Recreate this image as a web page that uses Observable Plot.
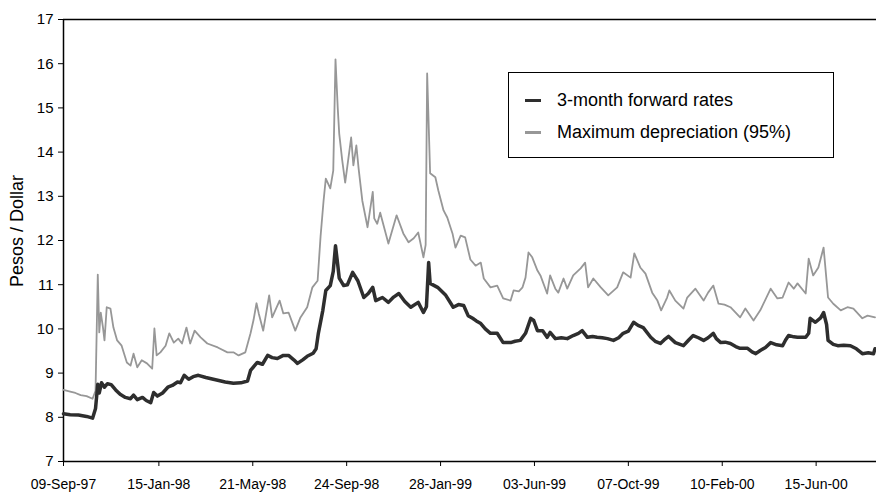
<!DOCTYPE html>
<html>
<head>
<meta charset="utf-8">
<script src="https://cdn.jsdelivr.net/npm/d3@7"></script>
<script src="https://cdn.jsdelivr.net/npm/@observablehq/plot@0.6"></script>
<style>
  html, body { margin: 0; padding: 0; background: #fff; }
  #wrap { position: relative; width: 876px; height: 493px; font-family: "Liberation Sans", Arial, sans-serif; }
  #ytitle { position: absolute; left: 17px; top: 231px; transform: translate(-50%, -50%) rotate(-90deg); font-size: 18px; white-space: nowrap; color: #000; }
  #legend { position: absolute; left: 508px; top: 72px; width: 326px; height: 86px; border: 1px solid #000; background: #fff; box-sizing: border-box; }
  .item { position: absolute; left: 16px; height: 20px; display: flex; align-items: center; font-size: 18px; white-space: nowrap; color: #000; }
  .swatch { width: 16px; height: 3px; margin-right: 16px; }
</style>
</head>
<body>
<div id="wrap"></div>
<script>
// ---- Data ----
const fwdDates = [
"1997-09-09","1997-09-18","1997-09-29","1997-10-10","1997-10-18","1997-10-22","1997-10-25","1997-10-27","1997-10-30","1997-11-03","1997-11-07","1997-11-12","1997-11-18","1997-11-24","1997-12-01","1997-12-08","1997-12-12","1997-12-17","1997-12-24","1997-12-29",
"1998-01-04","1998-01-08","1998-01-13","1998-01-20","1998-01-27","1998-02-02","1998-02-09","1998-02-13","1998-02-18","1998-02-24","1998-03-02","1998-03-09","1998-03-19","1998-04-01","1998-04-14","1998-04-25","1998-05-05","1998-05-14","1998-05-18","1998-05-27",
"1998-06-03","1998-06-10","1998-06-16","1998-06-23","1998-07-01","1998-07-08","1998-07-15","1998-07-20","1998-07-27","1998-08-02","1998-08-10","1998-08-14","1998-08-17","1998-08-23","1998-08-27","1998-09-02","1998-09-06","1998-09-09","1998-09-12","1998-09-14",
"1998-09-20","1998-09-25","1998-10-02","1998-10-09","1998-10-17","1998-10-23","1998-10-29","1998-11-02","1998-11-11","1998-11-19","1998-11-26","1998-12-03","1998-12-11","1998-12-19","1998-12-29","1999-01-05","1999-01-09","1999-01-12","1999-01-14","1999-01-24",
"1999-02-04","1999-02-14","1999-02-21","1999-02-28","1999-03-06","1999-03-12","1999-03-17","1999-03-23","1999-03-29","1999-04-05","1999-04-14","1999-04-22","1999-05-02","1999-05-08","1999-05-15","1999-05-22","1999-05-29","1999-06-02","1999-06-07","1999-06-14",
"1999-06-20","1999-06-24","1999-07-01","1999-07-09","1999-07-17","1999-07-25","1999-08-01","1999-08-06","1999-08-13","1999-08-20","1999-08-26","1999-09-02","1999-09-09","1999-09-17","1999-09-24","1999-09-30","1999-10-07","1999-10-14","1999-10-20","1999-10-27",
"1999-11-06","1999-11-12","1999-11-19","1999-11-24","1999-11-30","1999-12-09","1999-12-20","1999-12-27","2000-01-02","2000-01-09","2000-01-16","2000-01-22","2000-01-29","2000-02-02","2000-02-08","2000-02-14","2000-02-21","2000-02-28","2000-03-05","2000-03-15",
"2000-03-21","2000-03-26","2000-04-01","2000-04-08","2000-04-15","2000-04-23","2000-05-01","2000-05-05","2000-05-09","2000-05-16","2000-05-21","2000-06-01","2000-06-05","2000-06-07","2000-06-14","2000-06-21","2000-06-25","2000-06-29","2000-07-01","2000-07-08",
"2000-07-14","2000-07-22","2000-07-31","2000-08-08","2000-08-16","2000-08-24","2000-08-31","2000-09-02"];
const fwdValues = [
8.08,8.06,8.05,8.02,7.98,8.20,8.75,8.55,8.78,8.68,8.76,8.74,8.62,8.52,8.45,8.42,8.50,8.40,8.45,8.38,
8.33,8.56,8.48,8.55,8.68,8.72,8.80,8.78,8.95,8.86,8.92,8.95,8.90,8.85,8.80,8.77,8.78,8.82,9.06,9.24,
9.20,9.40,9.35,9.33,9.40,9.40,9.30,9.22,9.30,9.38,9.45,9.55,9.90,10.42,10.87,10.98,11.30,11.88,11.45,11.15,
10.98,11.00,11.28,11.09,10.71,10.80,10.94,10.64,10.71,10.60,10.72,10.80,10.62,10.49,10.60,10.37,10.50,11.50,11.03,10.94,
10.76,10.49,10.55,10.53,10.30,10.24,10.18,10.12,10.00,9.90,9.90,9.69,9.69,9.72,9.74,9.90,10.24,10.19,9.96,9.96,
9.81,9.92,9.78,9.80,9.78,9.85,9.90,9.96,9.81,9.83,9.81,9.80,9.78,9.74,9.80,9.90,9.95,10.15,10.08,10.03,
9.81,9.72,9.67,9.75,9.83,9.69,9.62,9.75,9.85,9.80,9.74,9.80,9.90,9.78,9.69,9.70,9.67,9.60,9.56,9.56,
9.48,9.44,9.51,9.58,9.69,9.64,9.62,9.75,9.85,9.82,9.81,9.81,9.90,10.24,10.15,10.25,10.37,10.10,9.74,9.65,
9.62,9.63,9.62,9.55,9.44,9.46,9.44,9.55];

const maxDates = [
"1997-09-09","1997-09-18","1997-09-25","1997-10-02","1997-10-10","1997-10-18","1997-10-22","1997-10-25","1997-10-27","1997-10-29","1997-11-01","1997-11-03","1997-11-06","1997-11-11","1997-11-15","1997-11-20","1997-11-26","1997-12-03","1997-12-08","1997-12-12",
"1997-12-17","1997-12-23","1997-12-30","1998-01-06","1998-01-09","1998-01-12","1998-01-17","1998-01-24","1998-01-29","1998-02-04","1998-02-10","1998-02-15","1998-02-21","1998-02-26","1998-03-04","1998-03-12","1998-03-21","1998-04-04","1998-04-17","1998-04-25",
"1998-05-02","1998-05-11","1998-05-18","1998-05-22","1998-05-26","1998-05-29","1998-06-04","1998-06-12","1998-06-16","1998-06-26","1998-07-01","1998-07-08","1998-07-17","1998-07-24","1998-08-02","1998-08-09","1998-08-16","1998-08-20","1998-08-24","1998-08-27",
"1998-09-02","1998-09-06","1998-09-09","1998-09-12","1998-09-14","1998-09-18","1998-09-22","1998-09-30","1998-10-03","1998-10-07","1998-10-10","1998-10-15","1998-10-22","1998-10-29","1998-10-31","1998-11-04","1998-11-08","1998-11-19","1998-11-30","1998-12-09",
"1998-12-16","1998-12-23","1998-12-29","1999-01-05","1999-01-08","1999-01-10","1999-01-14","1999-01-21","1999-01-25","1999-02-01","1999-02-06","1999-02-13","1999-02-17","1999-02-24","1999-03-02","1999-03-09","1999-03-16","1999-03-23","1999-03-27","1999-04-05",
"1999-04-14","1999-04-22","1999-05-02","1999-05-06","1999-05-13","1999-05-18","1999-05-22","1999-05-26","1999-05-31","1999-06-07","1999-06-11","1999-06-20","1999-06-24","1999-07-01","1999-07-05","1999-07-12","1999-07-17","1999-07-25","1999-08-04","1999-08-10",
"1999-08-14","1999-08-21","1999-08-31","1999-09-10","1999-09-22","1999-09-30","1999-10-10","1999-10-15","1999-10-23","1999-10-30","1999-11-08","1999-11-15","1999-11-20","1999-11-28","1999-12-01","1999-12-09","1999-12-20","1999-12-25","2000-01-05","2000-01-16",
"2000-01-22","2000-01-29","2000-02-05","2000-02-13","2000-02-21","2000-03-05","2000-03-12","2000-03-23","2000-04-01","2000-04-15","2000-04-24","2000-05-01","2000-05-09","2000-05-16","2000-05-21","2000-06-01","2000-06-05","2000-06-11","2000-06-18","2000-06-25",
"2000-07-01","2000-07-08","2000-07-18","2000-07-27","2000-08-04","2000-08-16","2000-08-23","2000-09-02"];
const maxValues = [
8.62,8.58,8.55,8.50,8.48,8.42,8.60,11.23,9.92,10.37,10.03,9.74,10.49,10.46,10.03,9.74,9.62,9.24,9.17,9.44,
9.13,9.29,9.22,9.10,10.01,9.40,9.47,9.62,9.90,9.69,9.78,9.67,10.03,9.67,9.96,9.81,9.67,9.58,9.47,9.47,
9.40,9.47,9.90,10.20,10.58,10.35,9.96,10.76,10.26,10.64,10.35,10.37,9.96,10.26,10.49,10.94,11.09,12.10,12.90,13.40,
13.18,13.58,16.10,15.00,14.42,13.82,13.31,14.33,13.70,14.15,13.63,12.90,12.30,13.10,12.50,12.38,12.63,11.93,12.57,12.16,
11.96,12.05,12.18,11.62,11.90,15.78,13.52,13.43,13.13,12.68,12.52,12.16,11.84,12.11,12.07,11.57,11.43,11.50,11.14,10.94,
10.98,10.69,10.64,10.87,10.85,10.94,11.16,11.73,11.62,11.32,11.21,10.80,11.21,10.91,10.82,11.14,10.91,11.21,11.37,11.50,
10.94,11.14,10.94,10.76,10.94,11.28,11.16,11.71,11.39,11.25,10.82,10.64,10.42,10.71,10.87,10.64,10.46,10.71,10.91,10.64,
10.82,10.98,10.57,10.55,10.49,10.26,10.46,10.19,10.42,10.91,10.69,10.71,11.05,10.91,11.03,10.80,11.59,11.21,11.39,11.84,
10.71,10.57,10.42,10.49,10.46,10.24,10.30,10.26];

const xTickDates = ["1997-09-09","1998-01-15","1998-05-21","1998-09-24","1999-01-28","1999-06-03","1999-10-07","2000-02-10","2000-06-15"];
const xDomain = ["1997-09-09","2000-09-04"];
const yTicks = [7,8,9,10,11,12,13,14,15,16,17];
const seriesNames = ["3-month forward rates","Maximum depreciation (95%)"];
const seriesColors = ["#2e2e2e","#979797"];

// ---- Build ----
const parse = d3.utcParse("%Y-%m-%d");
const fwd = fwdDates.map((d, i) => ({date: parse(d), value: fwdValues[i]}));
const maxd = maxDates.map((d, i) => ({date: parse(d), value: maxValues[i]}));
const fmt = d3.utcFormat("%d-%b-%y");
const x0 = parse(xDomain[0]), x1 = parse(xDomain[1]);

const chart = Plot.plot({
  width: 876,
  height: 493,
  marginLeft: 63,
  marginRight: 0,
  marginTop: 19,
  marginBottom: 32,
  style: {fontFamily: "'Liberation Sans', Arial, sans-serif", fontSize: "14px", color: "#000", background: "#fff", overflow: "visible"},
  x: {type: "utc", domain: [x0, x1]},
  y: {domain: [7, 17]},
  marks: [
    Plot.axisX({ticks: xTickDates.map(parse), tickFormat: fmt, tickSize: 5, tickPadding: 13, label: null, stroke: "#000", fontSize: 14}),
    Plot.axisY({ticks: yTicks, tickSize: 5, tickPadding: 5, label: null, stroke: "#000", fontSize: 15}),
    Plot.ruleY([17], {stroke: "#000", strokeWidth: 1.5}),
    Plot.ruleY([7], {stroke: "#000", strokeWidth: 1.5}),
    Plot.ruleX([x0], {stroke: "#000", strokeWidth: 1.5}),
    Plot.line(maxd, {x: "date", y: "value", stroke: seriesColors[1], strokeWidth: 1.8}),
    Plot.line(fwd, {x: "date", y: "value", stroke: seriesColors[0], strokeWidth: 3.5})
  ]
});

const wrap = document.getElementById("wrap");
wrap.appendChild(chart);

const yt = document.createElement("div");
yt.id = "ytitle";
yt.textContent = "Pesos / Dollar";
wrap.appendChild(yt);

const lg = document.createElement("div");
lg.id = "legend";
seriesNames.forEach((name, i) => {
  const it = document.createElement("div");
  it.className = "item";
  it.style.top = (i === 0 ? 17 : 49) + "px";
  const sw = document.createElement("div");
  sw.className = "swatch";
  sw.style.background = seriesColors[i];
  const tx = document.createElement("span");
  tx.textContent = name;
  it.appendChild(sw);
  it.appendChild(tx);
  lg.appendChild(it);
});
wrap.appendChild(lg);
</script>
</body>
</html>
